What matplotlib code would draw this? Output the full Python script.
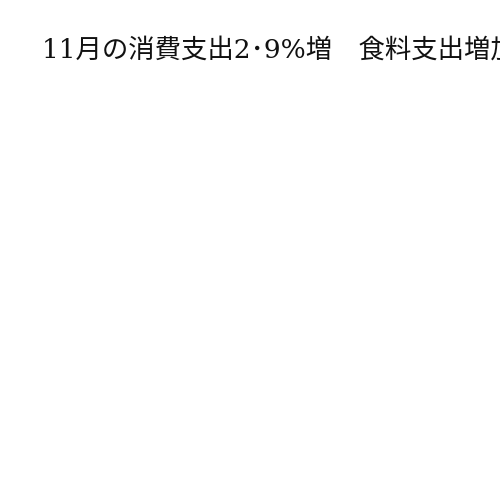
import matplotlib
matplotlib.use('Agg')
import matplotlib.pyplot as plt

# only a title is visible in the picture, the chart body is blank
title = '11月の消費支出2･9%増　食料支出増加'

plt.rcParams['font.family'] = ['DejaVu Serif', 'Noto Sans CJK JP', 'DejaVu Sans']

fig = plt.figure(figsize=(5, 5), dpi=100)
fig.patch.set_facecolor('white')
fig.text(0.084, 0.884, title, fontsize=19, color='#111111',
         ha='left', va='baseline')
fig.savefig('out.png', dpi=100, facecolor='white')
